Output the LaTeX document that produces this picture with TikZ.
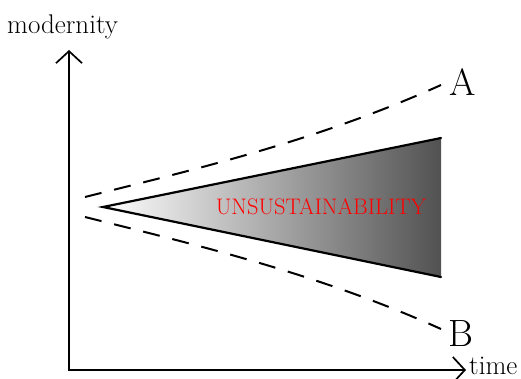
\documentclass[tikz,border=0pt]{standalone}
\usetikzlibrary{arrows.meta}
\begin{document}
\begin{tikzpicture}[x=1pt,y=-1pt,
  axis/.style={line width=1.8pt,line join=miter,-{Straight Barb[length=12pt,width=26pt,line width=1.7pt]}},
  bound/.style={line width=2pt,dash pattern=on 17pt off 13pt},
  edge/.style={line width=2.2pt,line cap=round},
  lbl/.style={inner sep=0pt,font=\fontsize{27}{30}\selectfont},
  big/.style={inner sep=0pt,font=\fontsize{38}{40}\selectfont},
  warn/.style={inner sep=0pt,text=red,font=\fontsize{22.5}{26}\selectfont}]
\useasboundingbox (0,0) rectangle (521,378);
% coordinates
\coordinate (O) at (69,370);
\coordinate (ytop) at (69,50);
\coordinate (xend) at (466,370);
\coordinate (apex) at (103,207);
\coordinate (tr) at (441,138);
\coordinate (br) at (441,277);
\coordinate (a0) at (85,197);
\coordinate (a1) at (441,85);
\coordinate (b0) at (85,217);
\coordinate (b1) at (441,329);
% shaded wedge
\shade[left color=white,right color=black!68] (apex) -- (tr) -- (br) -- cycle;
\draw[edge] (tr) -- (apex) -- (br);
% dashed bounds
\draw[bound] (a0) .. controls (205,167) and (321,139) .. (a1);
\draw[bound] (b0) .. controls (205,247) and (321,275) .. (b1);
% axes
\draw[axis] (O) -- (ytop);
\draw[axis] (O) -- (xend);
\fill (O) ++(-0.9,-0.9) rectangle ++(1.8,1.8);
% labels
\node[lbl,anchor=base west] (ylab) at (7,33) {modernity};
\node[lbl,anchor=base west] (xlab) at (469,374) {time};
\node[big,anchor=base] (A) at (463,95) {A};
\node[big,anchor=base] (B) at (461,346) {B};
\node[warn,anchor=base] (U) at (321,214) {UNSUSTAINABILITY};
\end{tikzpicture}
\end{document}
